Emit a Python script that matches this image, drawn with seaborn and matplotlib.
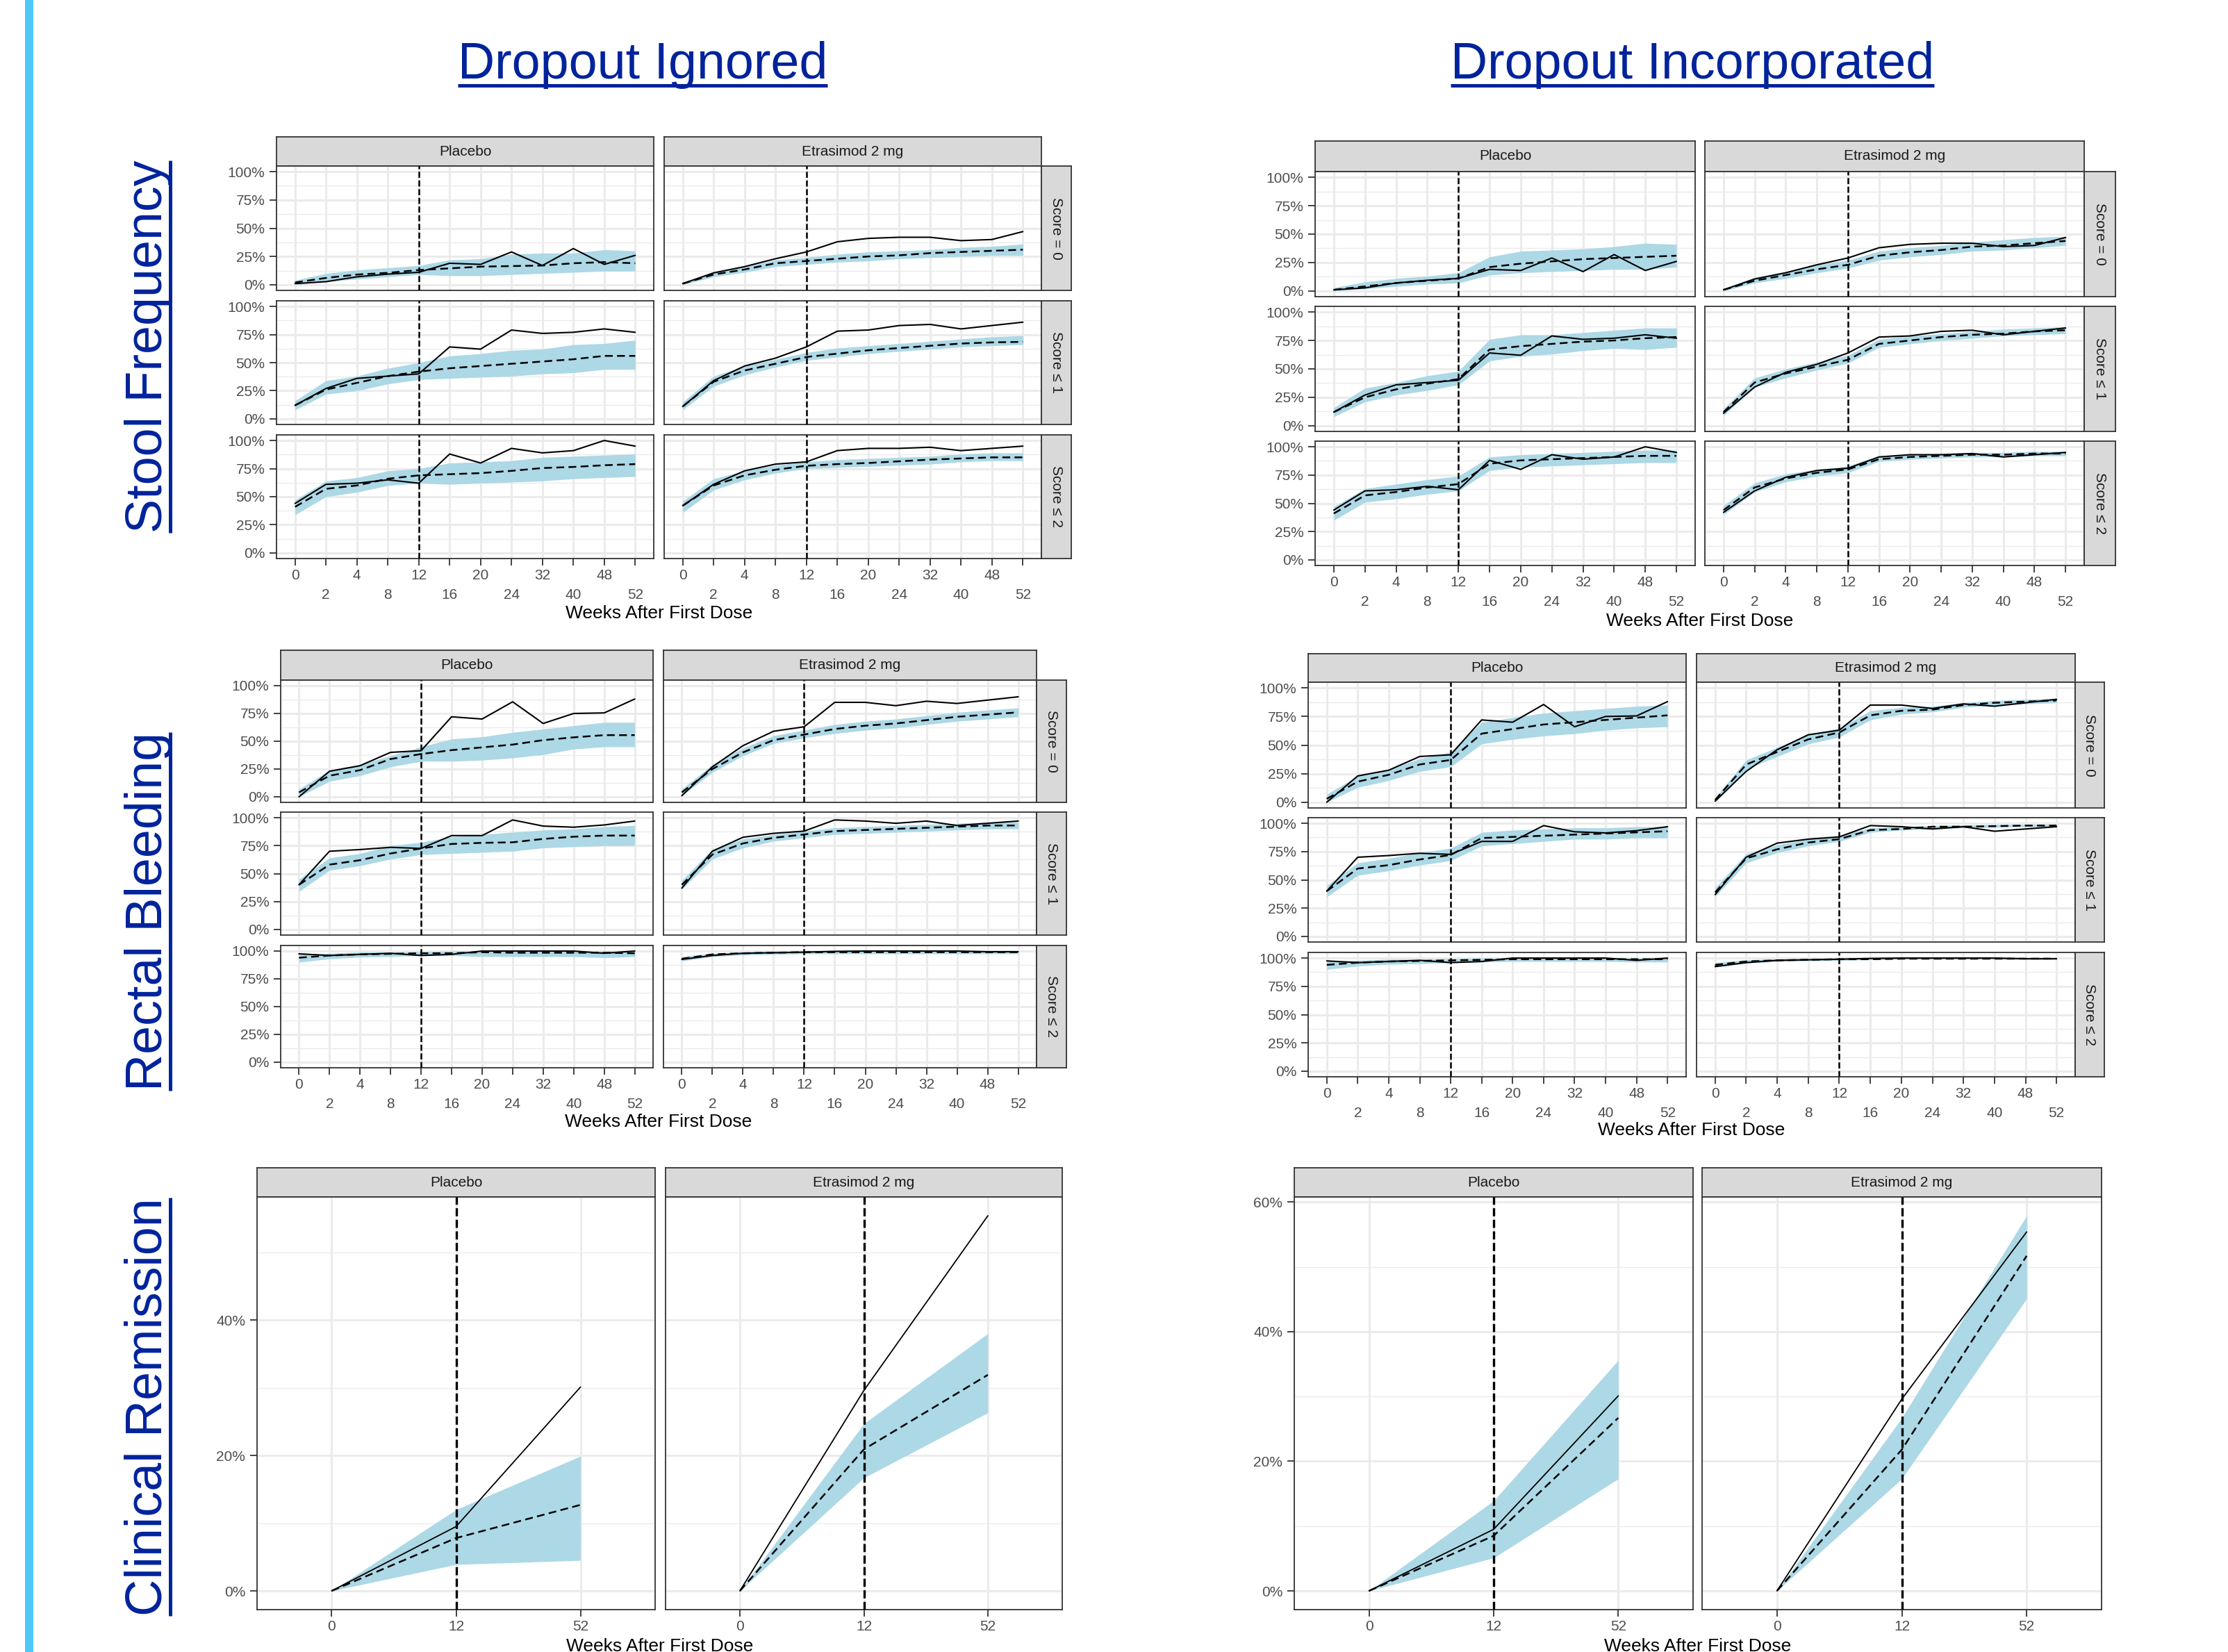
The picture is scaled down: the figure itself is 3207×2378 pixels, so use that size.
import numpy as np
import pandas as pd
import seaborn as sns
import matplotlib.pyplot as plt
from matplotlib.lines import Line2D
from matplotlib.patches import Rectangle

W, H = 3207, 2378

weeks = ['0', '2', '4', '8', '12', '16', '20', '24', '32', '40', '48', '52']
cr_weeks = ['0', '12', '52']
arms = ['Placebo', 'Etrasimod 2 mg']
scores = ['Score = 0', 'Score \u2264 1', 'Score \u2264 2']

# ---- Stool frequency (percent), rows = score 0 / <=1 / <=2
sf_obs_pbo = [[1, 2.7, 7, 9.4, 11, 19, 18, 29, 17, 32, 18, 26],
              [12, 27, 36, 38, 40, 64, 62, 79, 76, 77, 80, 77],
              [44, 61, 62, 65, 62, 88, 80, 93, 89, 91, 100, 95]]
sf_obs_etr = [[1, 10.5, 16, 23, 29, 38, 41, 42, 42, 39, 40, 47],
              [11, 34, 47, 54, 64, 78, 79, 83, 84, 80, 83, 86],
              [42, 61, 73, 79, 81, 91, 93, 93, 94, 91, 93, 95]]

sf_ign_pbo_mid = [[2, 6, 9, 10.5, 13, 14.5, 16, 16.5, 17, 19, 20, 19],
                  [12, 26, 32, 38, 42, 45, 47, 49, 51, 53, 56, 56],
                  [41, 57, 60, 66, 69, 70, 71, 73, 75.5, 76.5, 78, 79]]
sf_ign_pbo_lo = [[0, 3, 5, 7, 9, 8, 8, 9, 10, 11, 12, 12],
                 [8, 22, 25, 31, 35, 36, 37, 38, 40, 41, 44, 44],
                 [34, 50, 54, 60, 62, 61, 62, 63, 64, 66, 67, 68]]
sf_ign_pbo_hi = [[4, 10, 13, 15, 17, 22, 23, 27, 28, 28, 31, 30],
                 [16, 34, 38, 45, 50, 56, 58, 61, 62, 66, 67, 70],
                 [47, 64, 67, 73, 75, 80, 81, 82, 85, 86, 87, 88]]
sf_ign_etr_mid = [[1, 9, 13.5, 19, 21, 23, 25, 26, 28, 29, 30, 31],
                  [11, 33, 43, 49, 55, 58, 61, 63, 65, 67, 68, 68.5],
                  [42, 60, 69, 74, 77.5, 79, 80, 81.5, 83, 84, 85, 85]]
sf_ign_etr_lo = [[0, 7, 11, 16, 18, 20, 21, 23, 24, 25, 26, 26],
                 [8, 29, 39, 46, 52, 55, 58, 60, 62, 64, 65, 66],
                 [36, 56, 65, 71, 75, 76, 77, 78, 79, 81, 82, 82]]
sf_ign_etr_hi = [[2, 11, 16, 22, 24, 27, 29, 30, 31, 33, 34, 36],
                 [15, 38, 47, 53, 59, 63, 65, 67, 69, 71, 73, 74],
                 [46, 66, 73, 78, 81, 83, 84, 85, 86, 88, 89, 89]]

sf_inc_pbo_mid = [[1, 4, 7, 9, 11, 21, 24, 26, 28, 29, 30, 31],
                  [12, 25, 32, 37, 41, 67, 70, 72, 74, 75, 77, 78],
                  [41, 57, 60, 64, 67, 85, 88, 89, 90, 91, 92, 92]]
sf_inc_pbo_lo = [[0, 2, 4, 6, 7, 14, 16, 17, 18, 19, 19, 21],
                 [8, 21, 27, 31, 36, 57, 61, 63, 66, 68, 67, 69],
                 [35, 51, 54, 58, 61, 79, 82, 83, 84, 85, 86, 86]]
sf_inc_pbo_hi = [[3, 8, 11, 13, 16, 30, 35, 36, 37, 39, 42, 41],
                 [16, 33, 38, 44, 48, 76, 80, 80, 82, 84, 86, 86],
                 [47, 63, 67, 71, 74, 91, 93, 94, 95, 96, 97, 97]]
sf_inc_etr_mid = [[1, 9, 14, 19, 23, 31, 34, 36, 39, 40, 42, 44],
                  [12, 38, 46, 52, 58, 72, 75, 78, 80, 81, 83, 84],
                  [44, 64, 72, 77, 80, 89, 91, 92, 93, 93, 94, 94]]
sf_inc_etr_lo = [[0, 7, 11, 16, 20, 27, 30, 32, 35, 36, 38, 40],
                 [9, 34, 42, 49, 55, 69, 72, 75, 77, 79, 80, 81],
                 [40, 60, 69, 74, 77, 87, 89, 90, 91, 91, 92, 92]]
sf_inc_etr_hi = [[2, 12, 17, 23, 27, 35, 38, 40, 43, 45, 47, 48],
                 [15, 42, 50, 56, 62, 76, 79, 81, 83, 85, 86, 87],
                 [48, 68, 76, 80, 83, 92, 93, 94, 95, 95, 96, 96]]

# ---- Rectal bleeding (percent)
rb_obs_pbo = [[0, 23, 28, 40, 41.5, 72, 70, 85.5, 66, 75, 75.5, 88],
              [40, 70, 71.5, 73.5, 72.5, 84, 84, 98, 92.5, 91.5, 93.5, 97],
              [97.5, 96, 97, 98, 96, 97, 100, 100, 100, 100, 98, 100]]
rb_obs_etr = [[1, 27, 46, 59, 63, 85, 85, 82, 86, 84, 87, 90],
              [37, 70, 82.5, 86, 88, 98, 97, 95, 97, 93, 95, 97],
              [92.5, 96, 98, 98.5, 99, 99.7, 100, 100, 100, 100, 99.4, 99.4]]

rb_ign_pbo_mid = [[4, 19, 24, 34, 38.5, 42, 44.5, 47, 51, 53.5, 55.5, 55.5],
                  [40, 58, 62, 68, 72.5, 76.5, 77.5, 78, 81, 83, 84, 84],
                  [94, 96, 97, 97.5, 98, 98, 99, 98.5, 98.5, 98.5, 98.5, 98]]
rb_ign_pbo_lo = [[0, 14, 19, 27, 32, 32, 33, 35, 38, 43, 45, 45],
                 [34, 53, 57, 63, 67, 68, 69, 70, 73, 74, 75, 75],
                 [90, 93, 94.5, 95, 96, 96, 95, 95, 95, 95, 94, 95]]
rb_ign_pbo_hi = [[7, 24, 29, 37, 45, 52, 54, 58, 61, 64, 67, 67],
                 [45, 64, 68, 75, 78, 83, 85, 87, 89, 90, 92, 93],
                 [97, 98, 99, 99, 99.5, 100, 100, 100, 100, 100, 100, 100]]
rb_ign_etr_mid = [[4, 25, 40, 51, 56, 61, 64, 66, 69, 72, 74, 76],
                  [40, 67, 77, 82, 85, 88, 89, 90, 91, 92, 93, 93],
                  [93, 97, 98, 98.5, 99, 99, 99, 99, 99, 99, 99, 99]]
rb_ign_etr_lo = [[1, 22, 37, 48, 53, 57, 60, 62, 65, 68, 70, 72],
                 [36, 63, 73, 79, 82, 85, 86, 87, 88, 89, 90, 90],
                 [91, 95, 96.5, 97, 97.5, 97.5, 97.5, 97.5, 97.5, 97.5, 97.5, 97.5]]
rb_ign_etr_hi = [[7, 29, 44, 55, 60, 65, 68, 70, 73, 76, 78, 80],
                 [44, 72, 81, 85, 88, 91, 92, 93, 94, 95, 96, 96],
                 [95, 98, 99, 100, 100, 100, 100, 100, 100, 100, 100, 100]]

rb_inc_pbo_mid = [[3, 18, 24, 33, 37, 60, 64, 68, 70, 72, 74, 76],
                  [40, 60, 63, 68, 72, 87, 88, 89, 90, 91, 92, 93],
                  [94, 96, 97, 97.5, 98, 98.5, 99, 99, 99, 99, 99, 99]]
rb_inc_pbo_lo = [[0, 13, 19, 27, 31, 51, 55, 58, 60, 63, 65, 66],
                 [35, 54, 58, 63, 67, 80, 82, 84, 86, 86, 87, 87],
                 [90, 93, 94.5, 95, 96, 96.5, 97, 97, 97, 97, 96.5, 96.5]]
rb_inc_pbo_hi = [[7, 23, 29, 38, 44, 70, 74, 78, 80, 82, 84, 85],
                 [45, 65, 69, 74, 78, 92, 94, 95, 96, 96, 97, 97],
                 [97, 98, 99, 99, 99.5, 100, 100, 100, 100, 100, 100, 100]]
rb_inc_etr_mid = [[2, 33, 44, 55, 61, 76, 80, 81, 85, 87, 88, 89],
                  [39, 69, 77, 83, 86, 94, 95, 97, 97, 97.5, 98, 98],
                  [94, 97, 98, 98.5, 99, 99, 99.5, 99.5, 99.5, 99.5, 99.5, 99.5]]
rb_inc_etr_lo = [[0, 29, 40, 51, 57, 72, 77, 79, 83, 85, 86, 87],
                 [35, 65, 74, 80, 84, 92, 94, 95, 96, 96.5, 97, 97],
                 [92, 95.5, 97, 97.5, 98, 98.5, 99, 99, 99, 99, 99, 99]]
rb_inc_etr_hi = [[4, 37, 48, 59, 65, 80, 83, 84, 87, 89, 90, 91],
                 [43, 73, 81, 86, 89, 96, 97, 98, 98.5, 99, 99, 99],
                 [96, 98.5, 99.3, 99.5, 99.7, 100, 100, 100, 100, 100, 100, 100]]

# ---- Clinical remission (percent)
cr_obs_pbo = [0, 9.5, 30.1]
cr_obs_etr = [0, 29.6, 55.4]
cr_ign_pbo_mid = [0, 7.8, 12.7]
cr_ign_pbo_lo = [0, 3.9, 4.5]
cr_ign_pbo_hi = [0, 12.0, 19.9]
cr_ign_etr_mid = [0, 20.9, 31.9]
cr_ign_etr_lo = [0, 16.7, 26.3]
cr_ign_etr_hi = [0, 24.7, 38.0]
cr_inc_pbo_mid = [0, 8.5, 26.7]
cr_inc_pbo_lo = [0, 5.1, 17.3]
cr_inc_pbo_hi = [0, 13.9, 35.6]
cr_inc_etr_mid = [0, 21.8, 51.7]
cr_inc_etr_lo = [0, 17.3, 45.1]
cr_inc_etr_hi = [0, 26.7, 57.9]

BAND = '#ADD8E6'
GRID = '#EBEBEB'
EDGE = '#333333'
TXT = '#4D4D4D'
NAVY = '#00239C'

sns.set_style('white')
plt.rcParams['font.family'] = ['Liberation Sans', 'DejaVu Sans']

fig = plt.figure(figsize=(W / 100, H / 100), dpi=100)


def add_ax(x0, x1, y0, y1):
    return fig.add_axes([x0 / W, 1 - y1 / H, (x1 - x0) / W, (y1 - y0) / H])


def strip(x0, x1, y0, y1, label, rot=0):
    ax = add_ax(x0, x1, y0, y1)
    ax.set_facecolor('#D9D9D9')
    ax.set_xticks([])
    ax.set_yticks([])
    for s in ax.spines.values():
        s.set_color(EDGE)
        s.set_linewidth(1.3)
    ax.text(0.5, 0.5, label, transform=ax.transAxes, ha='center', va='center',
            rotation=rot, fontsize=15, color='#1A1A1A')


def panel(x0, x1, y0, y1, n, ylim, y_major, y_minor):
    ax = add_ax(x0, x1, y0, y1)
    ax.set_facecolor('white')
    for v in y_minor:
        ax.axhline(v, color=GRID, lw=1.0, zorder=0)
    for v in y_major:
        ax.axhline(v, color=GRID, lw=2.2, zorder=0)
    for i in range(n):
        ax.axvline(i, color=GRID, lw=2.2, zorder=0)
    for s in ax.spines.values():
        s.set_color(EDGE)
        s.set_linewidth(1.3)
    return ax


def draw(ax, x, obs, mid, lo, hi, vlw=1.8, olw=1.5, mlw=1.8):
    ax.fill_between(x, lo, hi, color=BAND, lw=0, zorder=1)
    sns.lineplot(x=x, y=obs, ax=ax, color='black', lw=olw, zorder=3)
    sns.lineplot(x=x, y=mid, ax=ax, color='black', lw=mlw,
                 linestyle=(0, (4.5, 2.5)), zorder=3)
    # dashed reference line at week 12
    ax.axvline(4 if len(x) > 3 else 1, color='black', lw=vlw,
               linestyle=(0, (3.5, 1.5)), zorder=4)


def finish(ax, n, ylim):
    ax.set_xlim(-0.6, n - 0.4)
    ax.set_ylim(*ylim)
    ax.set_xlabel('')
    ax.set_ylabel('')
    ax.set_xticks([])
    ax.set_yticks([])


def score_grid(cols, strip_y, rows_y, strip_r, groups, xlabel_y):
    x = np.arange(len(weeks))
    for c, (x0, x1) in enumerate(cols):
        strip(x0, x1, strip_y[0], strip_y[1], arms[c])
        obs, mid, lo, hi = groups[c]
        for r, (y0, y1) in enumerate(rows_y):
            ax = panel(x0, x1, y0, y1, len(weeks), (-5, 105),
                       [0, 25, 50, 75, 100], [12.5, 37.5, 62.5, 87.5])
            draw(ax, x, obs[r], mid[r], lo[r], hi[r])
            finish(ax, len(weeks), (-5, 105))
            if c == 0:
                ax.set_yticks([0, 25, 50, 75, 100], ['0%', '25%', '50%', '75%', '100%'])
                ax.tick_params(axis='y', left=True, length=7, width=1.3, color=EDGE,
                               pad=5, labelsize=15, labelcolor=TXT)
            if r == 2:
                ax.set_xticks(x[::2], weeks[::2])
                ax.set_xticks(x[1::2], weeks[1::2], minor=True)
                ax.tick_params(axis='x', which='both', bottom=True, length=7, width=1.3,
                               color=EDGE, labelsize=15, labelcolor=TXT)
                ax.tick_params(axis='x', which='major', pad=4)
                ax.tick_params(axis='x', which='minor', pad=24)
            if c == 1:
                strip(x1, strip_r, y0, y1, scores[r], rot=-90)
    fig.text((cols[0][0] + cols[1][1]) / 2 / W, 1 - xlabel_y / H, 'Weeks After First Dose',
             ha='center', va='center', fontsize=19, color='black')


def cr_grid(cols, strip_y, panel_y, groups, xlabel_y):
    x = np.arange(len(cr_weeks))
    top = max(max(v) for g in groups for v in g)
    ylim = (-0.05 * top, 1.05 * top)
    majors = [v for v in [0, 20, 40, 60] if v <= ylim[1]]
    minors = [v for v in [10, 30, 50] if v <= ylim[1]]
    for c, (x0, x1) in enumerate(cols):
        strip(x0, x1, strip_y[0], strip_y[1], arms[c])
        obs, mid, lo, hi = groups[c]
        ax = panel(x0, x1, panel_y[0], panel_y[1], len(cr_weeks), ylim, majors, minors)
        draw(ax, x, obs, mid, lo, hi, vlw=2.4, olw=1.3, mlw=1.8)
        finish(ax, len(cr_weeks), ylim)
        if c == 0:
            ax.set_yticks(majors, [f'{v}%' for v in majors])
            ax.tick_params(axis='y', left=True, length=7, width=1.3, color=EDGE,
                           pad=5, labelsize=15, labelcolor=TXT)
        ax.set_xticks(x, cr_weeks)
        ax.tick_params(axis='x', bottom=True, length=7, width=1.3, color=EDGE,
                       pad=4, labelsize=15, labelcolor=TXT)
    fig.text((cols[0][0] + cols[1][1]) / 2 / W, 1 - xlabel_y / H, 'Weeks After First Dose',
             ha='center', va='center', fontsize=19, color='black')


# Stool frequency
score_grid([(398, 941), (956, 1499)], (197, 239), [(239, 418), (433, 611), (626, 804)], 1542,
           [(sf_obs_pbo, sf_ign_pbo_mid, sf_ign_pbo_lo, sf_ign_pbo_hi),
            (sf_obs_etr, sf_ign_etr_mid, sf_ign_etr_lo, sf_ign_etr_hi)], 883)
score_grid([(1893, 2440), (2454, 3000)], (203, 247), [(247, 427), (441, 621), (635, 814)], 3045,
           [(sf_obs_pbo, sf_inc_pbo_mid, sf_inc_pbo_lo, sf_inc_pbo_hi),
            (sf_obs_etr, sf_inc_etr_mid, sf_inc_etr_lo, sf_inc_etr_hi)], 894)

# Rectal bleeding
score_grid([(404, 940), (955, 1492)], (936, 979), [(979, 1155), (1169, 1346), (1361, 1537)], 1535,
           [(rb_obs_pbo, rb_ign_pbo_mid, rb_ign_pbo_lo, rb_ign_pbo_hi),
            (rb_obs_etr, rb_ign_etr_mid, rb_ign_etr_lo, rb_ign_etr_hi)], 1615)
score_grid([(1883, 2427), (2442, 2987)], (941, 982), [(982, 1163), (1177, 1356), (1371, 1550)], 3029,
           [(rb_obs_pbo, rb_inc_pbo_mid, rb_inc_pbo_lo, rb_inc_pbo_hi),
            (rb_obs_etr, rb_inc_etr_mid, rb_inc_etr_lo, rb_inc_etr_hi)], 1627)

# Clinical remission
cr_grid([(370, 943), (958, 1529)], (1681, 1723), (1723, 2317),
        [(cr_obs_pbo, cr_ign_pbo_mid, cr_ign_pbo_lo, cr_ign_pbo_hi),
         (cr_obs_etr, cr_ign_etr_mid, cr_ign_etr_lo, cr_ign_etr_hi)], 2370)
cr_grid([(1863, 2437), (2450, 3025)], (1681, 1723), (1723, 2317),
        [(cr_obs_pbo, cr_inc_pbo_mid, cr_inc_pbo_lo, cr_inc_pbo_hi),
         (cr_obs_etr, cr_inc_etr_mid, cr_inc_etr_lo, cr_inc_etr_hi)], 2370)

# left accent bar
fig.add_artist(Rectangle((36 / W, 0), 12 / W, 1, transform=fig.transFigure,
                         color='#4FC8F8', lw=0))

# underlined headings
heads = []
for cx, label in [(925, 'Dropout Ignored'), (2436, 'Dropout Incorporated')]:
    t = fig.text(cx / W, 1 - 113 / H, label, fontsize=53, color=NAVY,
                 ha='center', va='baseline')
    heads.append(t)
rows = []
for cy, label in [(499, 'Stool Frequency'), (1312, 'Rectal Bleeding'), (2025, 'Clinical Remission')]:
    t = fig.text(233 / W, 1 - cy / H, label, fontsize=53, color=NAVY, rotation=90,
                 rotation_mode='anchor', ha='center', va='baseline')
    rows.append(t)

fig.canvas.draw()
rend = fig.canvas.get_renderer()
for t in heads:
    bb = t.get_window_extent(rend)
    yy = 1 - 123 / H
    fig.add_artist(Line2D([bb.x0 / W, bb.x1 / W], [yy, yy], transform=fig.transFigure,
                          color=NAVY, lw=3.6, solid_capstyle='butt'))
for t in rows:
    bb = t.get_window_extent(rend)
    xx = 245 / W
    fig.add_artist(Line2D([xx, xx], [bb.y0 / H, bb.y1 / H], transform=fig.transFigure,
                          color=NAVY, lw=3.6, solid_capstyle='butt'))

fig.savefig('out.png', dpi=100)
